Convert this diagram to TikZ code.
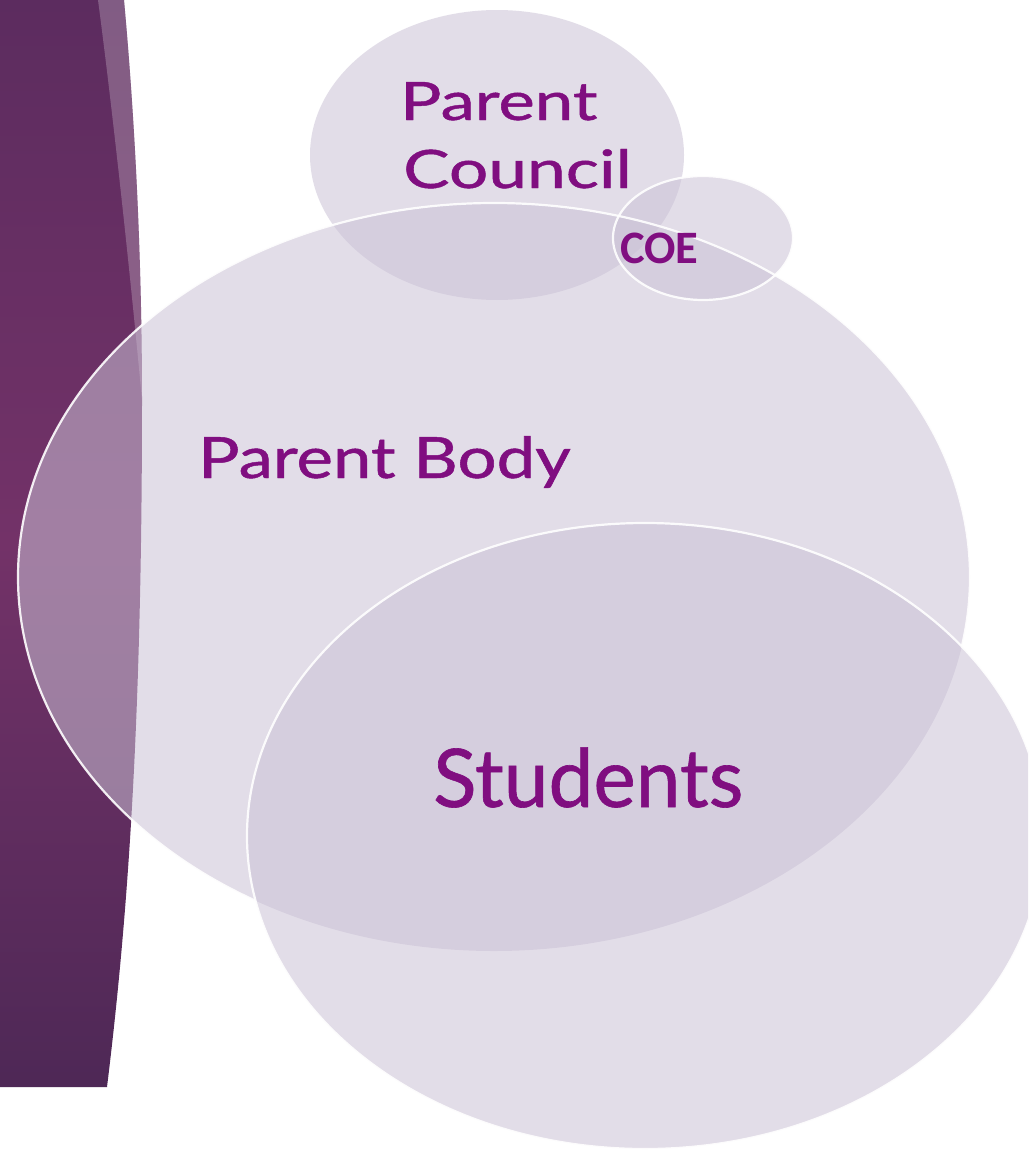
\documentclass[tikz,border=0pt]{standalone}
\usepackage{graphicx}
\usepackage{fontspec}
\setmainfont{Lato}
\newfontfamily\lblfont{Lato}[FakeBold=0.8]
\newfontfamily\coefont{Carlito}
\definecolor{txt}{RGB}{128,14,128}
\definecolor{lav}{RGB}{203,194,214}
\definecolor{bandtop}{RGB}{92,44,95}
\definecolor{bandmid}{RGB}{115,50,104}
\definecolor{bandbot}{RGB}{78,40,86}
\begin{document}
\begin{tikzpicture}[x=1pt,y=-1pt,
  bubble/.style={fill=lav, fill opacity=0.54},
  rim/.style={draw=white, line width=2.2pt, draw opacity=0.9},
  lbl/.style={text=txt, inner sep=0pt, anchor=base west}]
\useasboundingbox (0,0) rectangle (1028,1151);
\clip (0,0) rectangle (1028,1151);
\fill[white] (0,0) rectangle (1028,1151);
% side band
\shade[top color=bandtop, bottom color=bandbot, middle color=bandmid]
  (0,0) -- (124,0) .. controls (135,120) and (142,260) .. (142,400)
  .. controls (142,700) and (130,900) .. (107,1087) -- (0,1087) -- cycle;
\fill[white, fill opacity=0.23]
  (98,0) -- (124,0) .. controls (135,120) and (142,260) .. (142,400)
  .. controls (128,250) and (110,90) .. (98,0) -- cycle;
% ellipses
\fill[bubble] (497,155) ellipse [x radius=187pt, y radius=145pt];
\fill[bubble] (494,577) ellipse [x radius=476pt, y radius=374pt];
\fill[bubble] (645,836) ellipse [x radius=398pt, y radius=313pt];
\fill[bubble] (703,238) ellipse [x radius=90pt, y radius=62pt];
% rims
\begin{scope}[even odd rule]
  \clip (-10,-10) rectangle (1040,1160) (645,836) ellipse [x radius=398pt, y radius=313pt];
  \draw[rim] (494,577) ellipse [x radius=476pt, y radius=374pt];
\end{scope}
\draw[rim] (645,836) ellipse [x radius=398pt, y radius=313pt];
\draw[rim] (703,238) ellipse [x radius=90pt, y radius=62pt];
% labels
\node[lbl, font=\lblfont\fontsize{53}{60}\selectfont] (pc1) at (400,120) {\scalebox{1.3}[1]{Parent}};
\node[lbl, font=\lblfont\fontsize{53}{60}\selectfont] (pc2) at (403,188) {\scalebox{1.31}[1]{Council}};
\node[lbl, font=\coefont\bfseries\fontsize{46.5}{50}\selectfont] (coe) at (620,263) {COE};
\node[lbl, font=\lblfont\fontsize{57}{64}\selectfont] (pb) at (198,478) {\scalebox{1.21}[1]{Parent Body}};
\node[lbl, font=\lblfont\fontsize{81}{90}\selectfont] (st) at (433,807) {\scalebox{0.99}[1]{Students}};
\end{tikzpicture}
\end{document}
